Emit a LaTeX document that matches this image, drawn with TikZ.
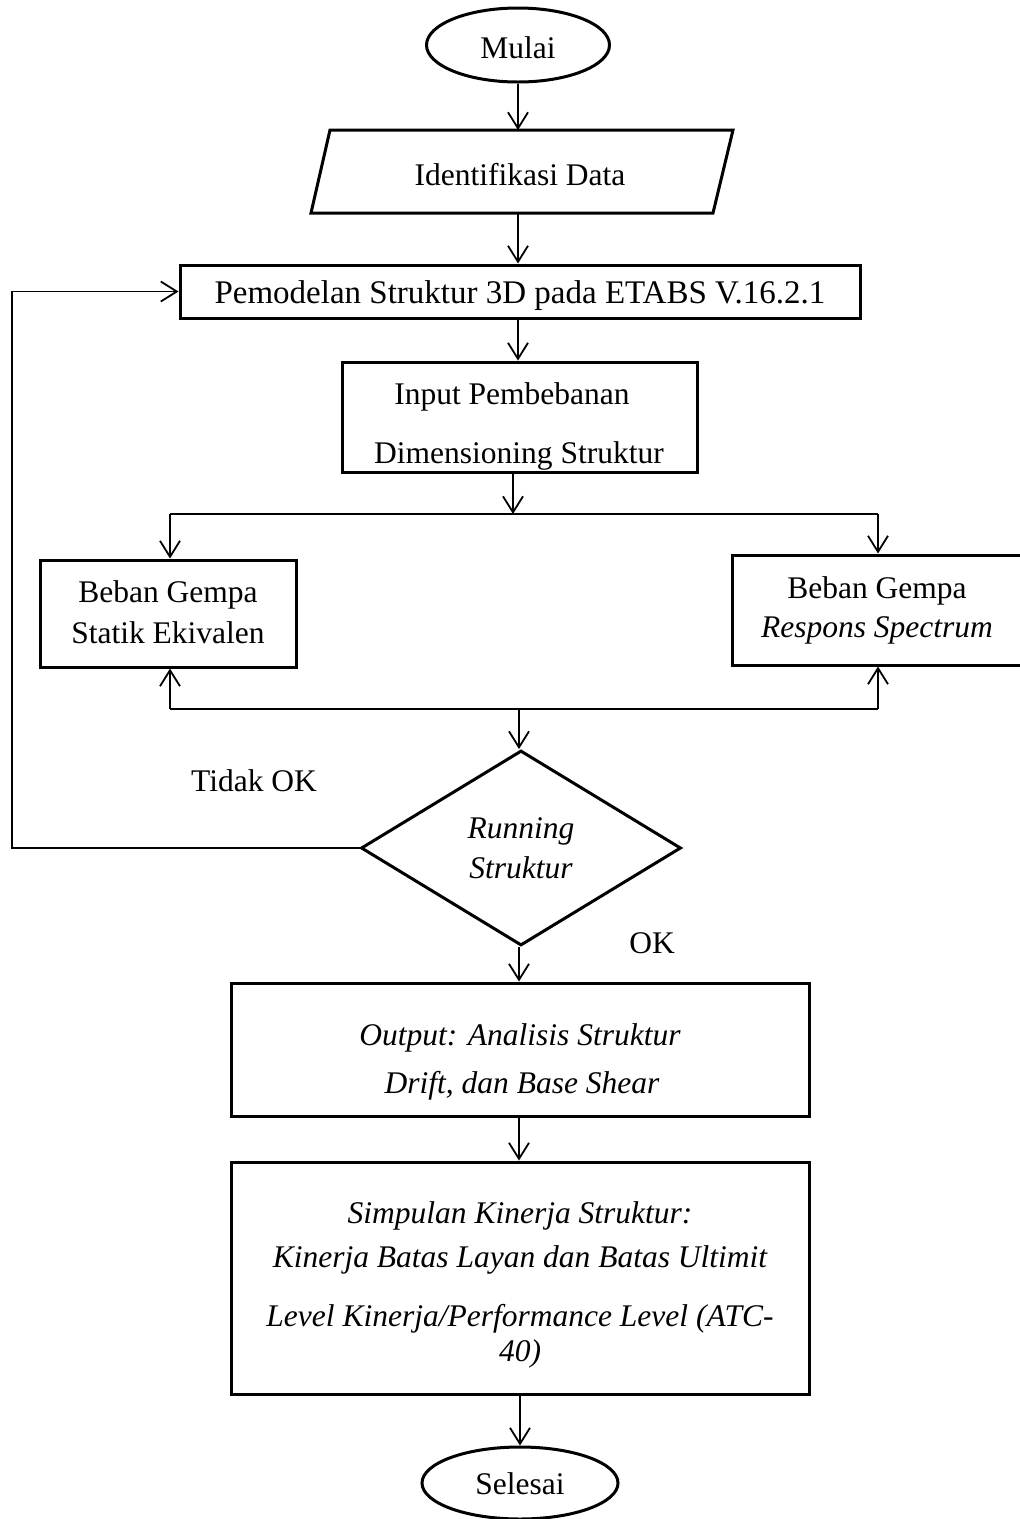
\documentclass[tikz,border=0pt]{standalone}
\usepackage{fontspec}
\setmainfont{Liberation Serif}
\usetikzlibrary{shapes.geometric,arrows.meta}
\begin{document}
\begin{tikzpicture}[x=1pt,y=-1pt,
  bx/.style={draw, line width=3pt, inner sep=0pt},
  txt/.style={anchor=base, inner sep=0pt, font=\fontsize{31.5}{38}\selectfont},
  itxt/.style={anchor=base, inner sep=0pt, font=\fontsize{31.5}{38}\selectfont\itshape},
  conn/.style={line width=1.8pt},
  arr/.style={conn, -{Straight Barb[length=16pt,width=20pt]}}]
\useasboundingbox (0,0) rectangle (1020,1519);

% shapes
\node[bx, ellipse, minimum width=183, minimum height=74] (mulai) at (518,45) {};
\draw[line width=3pt] (330,130) -- (733,130) -- (713,213) -- (311,213) -- cycle;
\coordinate (identtop) at (518,130);
\coordinate (identbot) at (518,213);
\node[bx, rectangle, minimum width=680, minimum height=53] (pemodelan) at (520,291.5) {};
\node[bx, rectangle, minimum width=355, minimum height=110] (input) at (519.5,417) {};
\node[bx, rectangle, minimum width=256, minimum height=107] (kiri) at (168,613.5) {};
\node[bx, rectangle, overlay, minimum width=293, minimum height=110] (kanan) at (878.5,610) {};
\node[bx, diamond, minimum width=320, minimum height=195] (run) at (521,848) {};
\node[bx, rectangle, minimum width=578, minimum height=133] (output) at (520,1049.5) {};
\node[bx, rectangle, minimum width=578, minimum height=232] (simpulan) at (520,1278) {};
\node[bx, ellipse, overlay, minimum width=196, minimum height=72] (selesai) at (520,1483) {};

% texts
\node[txt] (tmulai) at (518,58) {Mulai};
\node[txt] (tident) at (520,185) {Identifikasi Data};
\node[txt, font=\fontsize{33}{38}\selectfont] (tpemodelan) at (520,303) {Pemodelan Struktur 3D pada ETABS V.16.2.1};
\node[txt] (tinput1) at (512,404) {Input Pembebanan};
\node[txt] (tinput2) at (519,463) {Dimensioning Struktur};
\node[txt] (tkiri1) at (168,602) {Beban Gempa};
\node[txt] (tkiri2) at (168,643) {Statik Ekivalen};
\node[txt] (tkanan1) at (877,598) {Beban Gempa};
\node[itxt] (tkanan2) at (877,637) {Respons Spectrum};
\node[itxt] (trun1) at (521,838) {Running};
\node[itxt] (trun2) at (521,878) {Struktur};
\node[txt] (ttidak) at (254,791) {Tidak OK};
\node[txt] (tok) at (652,953) {OK};
\node[itxt] (tout1) at (520,1045) {Output: Analisis Struktur};
\node[itxt] (tout2) at (522,1093) {Drift, dan Base Shear};
\node[itxt] (tsim1) at (520,1223) {Simpulan Kinerja Struktur:};
\node[itxt] (tsim2) at (520,1267) {Kinerja Batas Layan dan Batas Ultimit};
\node[itxt] (tsim3) at (520,1326) {Level Kinerja/Performance Level (ATC-};
\node[itxt] (tsim4) at (520,1361) {40)};
\node[txt] (tselesai) at (520,1494) {Selesai};

% junction coordinates
\coordinate (jtop) at (513,514);
\coordinate (jL) at (170,514);
\coordinate (jR) at (878,514);
\coordinate (bL) at (170,709);
\coordinate (bR) at (878,709);
\coordinate (bM) at (519,709);
\coordinate (fb1) at (12,848);

% connectors
\draw[arr] (mulai.south) -- (identtop);
\draw[arr] (identbot) -- (identbot |- pemodelan.north);
\draw[arr] (pemodelan.south -| identbot) -- (input.north -| identbot);
\draw[arr] (input.south -| jtop) -- (jtop);
\draw[conn] (jL) -- (jR);
\draw[arr] (jL) -- (jL |- kiri.north);
\draw[arr] (jR) -- (jR |- kanan.north);
\draw[conn] (bL) -- (bR);
\draw[arr] (bL) -- (bL |- kiri.south);
\draw[arr] (bR) -- (bR |- kanan.south);
\draw[arr] (bM) -- (bM |- run.north);
\draw[arr] (run.west) -- (fb1) |- (pemodelan.west);
\draw[arr] (run.south -| bM) -- (bM |- output.north);
\draw[arr] (output.south -| bM) -- (bM |- simpulan.north);
\draw[arr] (simpulan.south) -- (selesai.north);
\end{tikzpicture}
\end{document}
